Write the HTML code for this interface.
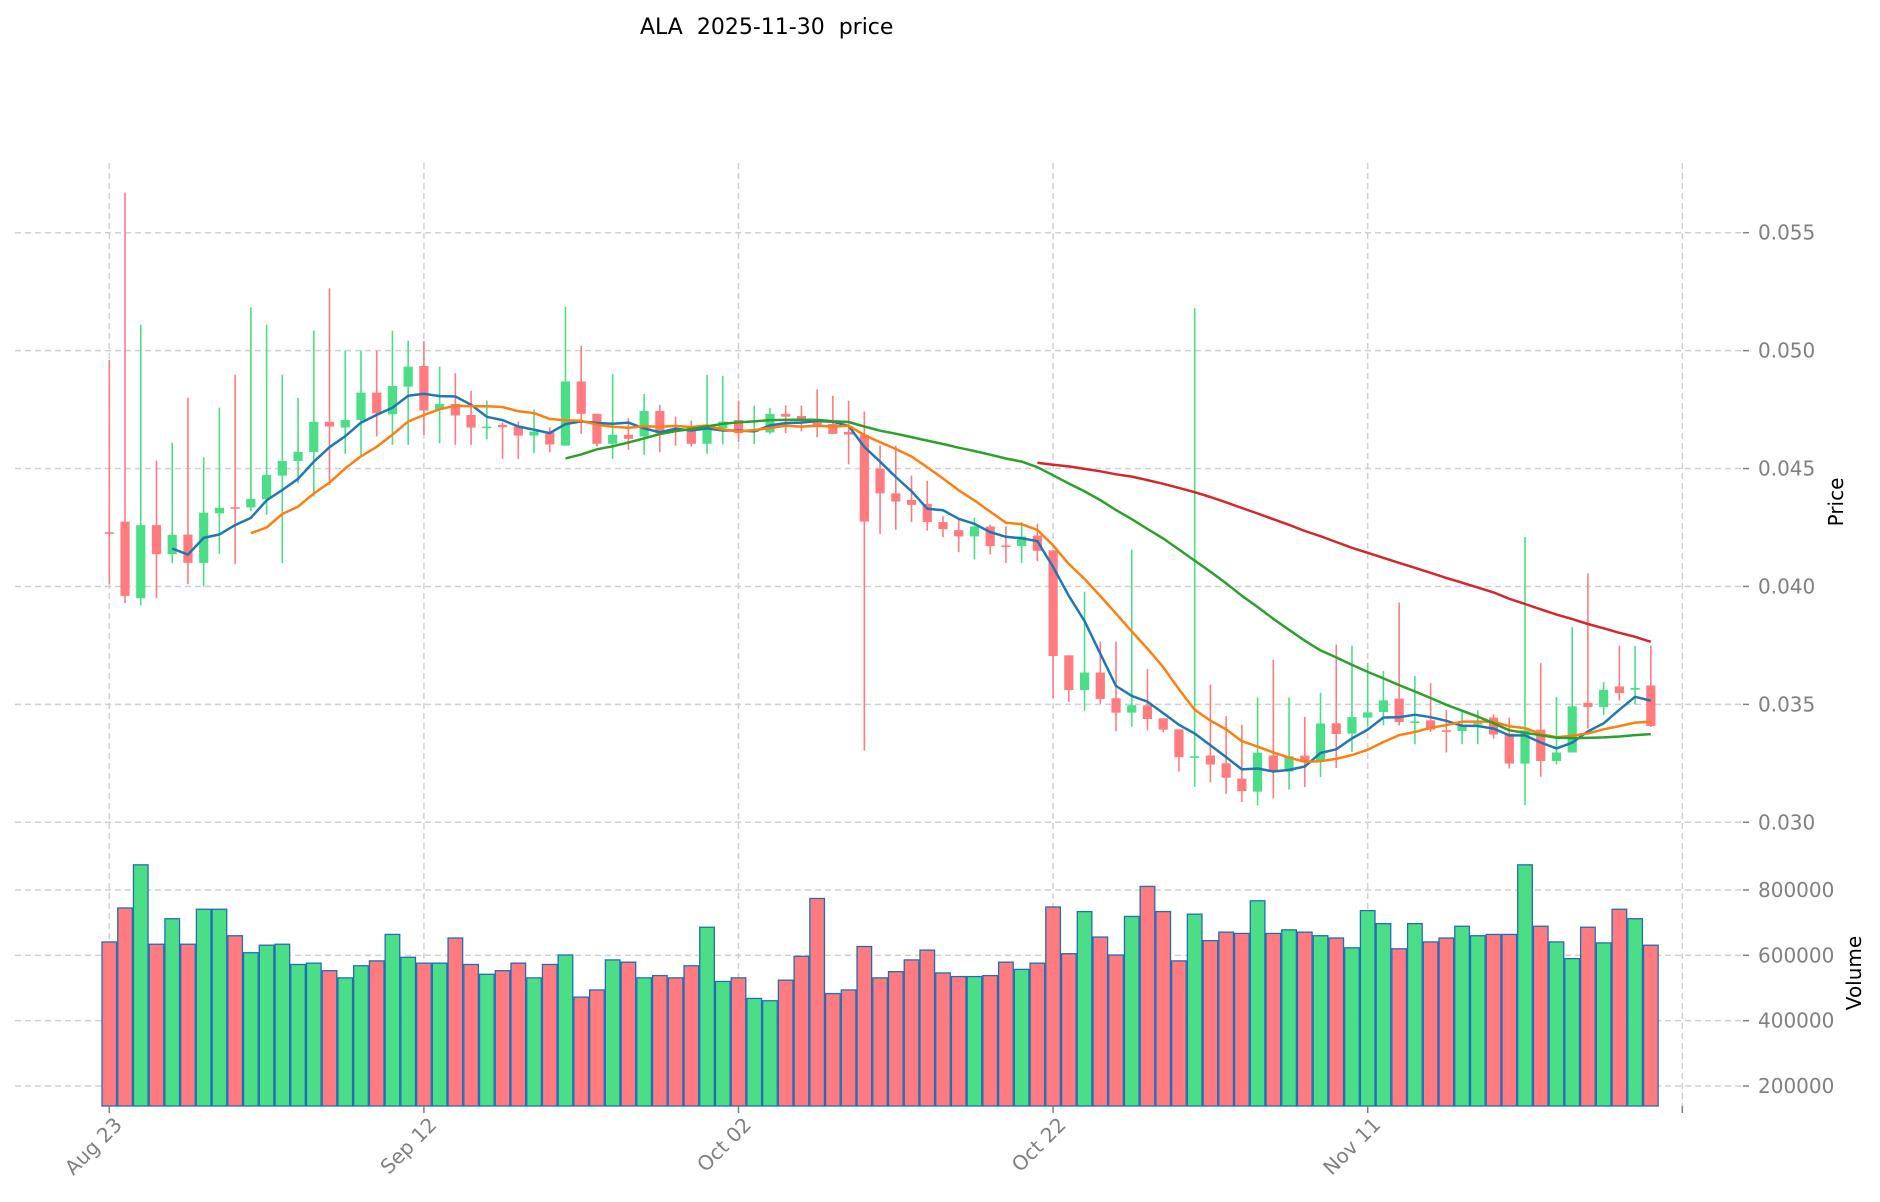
<!DOCTYPE html>
<html><head><meta charset="utf-8"><style>
html,body{margin:0;padding:0;background:#fff;}
svg{display:block;font-family:"DejaVu Sans","Liberation Sans",sans-serif;}
</style></head><body>
<svg id="chart" width="1880" height="1202" xmlns="http://www.w3.org/2000/svg">
<text x="640" y="34" font-size="22" fill="#000" xml:space="preserve">ALA  2025-11-30  price</text>
<text transform="translate(1843,502) rotate(-90)" text-anchor="middle" font-size="20" fill="#000">Price</text>
<text transform="translate(1861,973) rotate(-90)" text-anchor="middle" font-size="20" fill="#000">Volume</text>
<g id="grid"></g><g id="vol"></g><g id="candles"></g><g id="mas"></g><g id="axes"></g>
</svg>
<script>
const opens=[0.0423,0.04275,0.0395,0.0426,0.04137,0.0422,0.0410,0.0431,0.04336,0.04335,0.0437,0.0447,0.04532,0.0457,0.04698,0.04674,0.04706,0.04822,0.0473,0.04847,0.04935,0.04749,0.04774,0.04727,0.04678,0.04685,0.04678,0.0464,0.04654,0.04597,0.04869,0.04732,0.04605,0.04643,0.04636,0.04744,0.04682,0.04671,0.04605,0.04671,0.04706,0.04655,0.04653,0.04732,0.04723,0.04695,0.04689,0.04655,0.04643,0.04499,0.04395,0.04367,0.0435,0.04273,0.04239,0.04212,0.04254,0.04174,0.04171,0.04216,0.04153,0.03708,0.03561,0.03635,0.03526,0.03465,0.03496,0.03441,0.03394,0.0328,0.03283,0.0325,0.03185,0.0313,0.03283,0.03215,0.03283,0.0326,0.0342,0.03376,0.03444,0.03468,0.03524,0.03428,0.03432,0.0339,0.03387,0.03421,0.03444,0.03376,0.03249,0.03393,0.0326,0.03296,0.03507,0.03489,0.03576,0.03562,0.0358];
const closes=[0.04229,0.0396,0.0426,0.04137,0.04219,0.0410,0.04313,0.04334,0.04335,0.04371,0.04473,0.04532,0.04571,0.04698,0.04678,0.04706,0.04822,0.04734,0.0485,0.04932,0.04746,0.04774,0.04725,0.04674,0.04678,0.04675,0.0464,0.04657,0.04602,0.04869,0.04732,0.04605,0.04643,0.04626,0.04744,0.0465,0.04681,0.04605,0.04671,0.04699,0.0465,0.04662,0.04732,0.0472,0.04709,0.04684,0.04647,0.04644,0.04275,0.04395,0.0436,0.04346,0.04273,0.04243,0.04212,0.04254,0.04171,0.04173,0.04212,0.04151,0.03705,0.03561,0.03635,0.03523,0.03465,0.03496,0.03438,0.03393,0.03276,0.0328,0.03245,0.03189,0.03132,0.03295,0.03215,0.0328,0.0326,0.03419,0.03374,0.03446,0.03466,0.03517,0.03425,0.03428,0.03393,0.03389,0.03411,0.03421,0.03372,0.03249,0.0339,0.0326,0.03296,0.03492,0.03489,0.03562,0.03548,0.0357,0.03408];
const highs=[0.0496,0.0567,0.0511,0.04534,0.0461,0.048,0.04548,0.04758,0.04898,0.05184,0.0511,0.04898,0.048,0.05085,0.05264,0.050,0.050,0.050,0.05085,0.05042,0.0504,0.04932,0.04904,0.0483,0.04788,0.04695,0.047,0.04751,0.04675,0.05186,0.05021,0.04732,0.04901,0.04713,0.04816,0.0477,0.0472,0.04703,0.04897,0.04893,0.04788,0.04766,0.04756,0.04767,0.04767,0.04836,0.04809,0.04788,0.04742,0.04597,0.04597,0.0447,0.04448,0.04297,0.04282,0.04292,0.04262,0.04254,0.04274,0.04266,0.04153,0.03708,0.03978,0.03766,0.03766,0.04156,0.0365,0.03441,0.03394,0.0518,0.03584,0.0345,0.03413,0.03529,0.0369,0.03529,0.03447,0.03549,0.03754,0.03749,0.03675,0.03641,0.03932,0.0362,0.0359,0.03475,0.03475,0.03475,0.03458,0.03444,0.0421,0.03675,0.03531,0.03827,0.04055,0.03594,0.03749,0.03749,0.03749];
const lows=[0.0401,0.0393,0.0392,0.0395,0.04099,0.0401,0.0400,0.04138,0.04096,0.0432,0.04304,0.04099,0.04438,0.04381,0.0443,0.04562,0.04558,0.04636,0.0460,0.046,0.04643,0.04607,0.046,0.046,0.04624,0.04541,0.0454,0.04565,0.04569,0.04597,0.04647,0.04593,0.04541,0.04579,0.04558,0.04569,0.04597,0.04593,0.04562,0.04603,0.04612,0.04603,0.04647,0.0465,0.04657,0.04633,0.04647,0.04518,0.03304,0.04223,0.0424,0.04273,0.04237,0.04209,0.04145,0.04115,0.04136,0.041,0.041,0.04107,0.03526,0.03511,0.03473,0.03503,0.03386,0.03405,0.0339,0.03382,0.03215,0.0315,0.0317,0.03121,0.03086,0.03071,0.03101,0.03139,0.0315,0.03192,0.0323,0.03298,0.03407,0.03411,0.03411,0.03331,0.03383,0.03296,0.03331,0.03331,0.03355,0.03228,0.03073,0.03193,0.03246,0.03296,0.03397,0.03454,0.03517,0.035,0.03404];
const volumes=[641,745,877,634,712,634,741,741,660,608,631,634,572,576,553,531,568,583,664,594,576,576,653,572,542,553,576,531,572,601,472,494,586,579,531,538,531,568,686,520,531,468,461,524,597,774,483,494,627,531,550,586,616,546,535,535,538,579,557,576,748,605,734,656,601,719,811,734,583,726,645,671,667,767,667,678,671,660,653,623,737,697,620,697,641,653,689,660,664,664,877,689,641,590,686,638,741,712,631].map(v=>v*1000);
const maWindows=[5,10,30,60];
const maColors=['#1f77b4','#ff7f0e','#2ca02c','#d62728'];
const dateTicks=[0,20,40,60,80,100];
const dateLabels=['Aug 23','Sep 12','Oct 02','Oct 22','Nov 11',''];
const priceTicks=[0.030,0.035,0.040,0.045,0.050,0.055];
const volTicks=[200000,400000,600000,800000];

const NS='http://www.w3.org/2000/svg';
const X=i=>109.3+i*15.73;
const PY=p=>822.3-(p-0.030)*(232.7-822.3)/(-0.025);
const VY=v=>1086-(v-200000)*(196/600000);
const VBASE=1106;
function mk(tag,attrs,parent){const e=document.createElementNS(NS,tag);for(const k in attrs)e.setAttribute(k,attrs[k]);parent.appendChild(e);return e;}
const grid=document.getElementById('grid'),vol=document.getElementById('vol'),cg=document.getElementById('candles'),mg=document.getElementById('mas'),ax=document.getElementById('axes');
const GC='#d0d0d0';
priceTicks.forEach((p,i)=>{
  const y=PY(p);
  const l=mk('line',{x1:15,x2:1743,y1:y,y2:y,stroke:GC,'stroke-width':1.5,'stroke-dasharray':'6,4'},grid);
  
  
  mk('line',{x1:1743,x2:1749,y1:y,y2:y,stroke:'#808080','stroke-width':1.5},ax);
  const t=mk('text',{x:1758,y:y+7,'font-size':20,fill:'#808080'},ax);t.textContent=p.toFixed(3);
  
  
});
volTicks.forEach(v=>{
  const y=VY(v);
  const l=mk('line',{x1:15,x2:1743,y1:y,y2:y,stroke:GC,'stroke-width':1.5,'stroke-dasharray':'6,4'},grid);
  
  
  mk('line',{x1:1743,x2:1749,y1:y,y2:y,stroke:'#808080','stroke-width':1.5},ax);
  const t=mk('text',{x:1758,y:y+7,'font-size':20,fill:'#808080'},ax);t.textContent=String(v);
  
  
});
dateTicks.forEach((d,i)=>{
  const x=X(d);
  const l=mk('line',{x1:x,x2:x,y1:163,y2:VBASE,stroke:GC,'stroke-width':1.5,'stroke-dasharray':'6,4'},grid);
  
  
  mk('line',{x1:x,x2:x,y1:VBASE,y2:VBASE+7,stroke:'#808080','stroke-width':1.5},ax);
  if(dateLabels[i]){
    const t=mk('text',{transform:`translate(${x+14},${VBASE+20}) rotate(-45)`,'text-anchor':'end','font-size':20,fill:'#808080'},ax);
    t.textContent=dateLabels[i];
    
    
  }
});
const RED='#ff7b7f',GREEN='#4bde87';
volumes.forEach((v,i)=>{
  const up=closes[i]>=opens[i];
  const y=VY(v);
  const r=mk('rect',{x:X(i)-7.3,y:y,width:14.6,height:VBASE-y,fill:up?GREEN:RED,stroke:'#1f6fb8','stroke-width':1.3},vol);
  
  
});
opens.forEach((o,i)=>{
  const c=closes[i],up=c>=o,col=up?GREEN:RED,x=X(i);
  const w=mk('line',{x1:x,x2:x,y1:PY(highs[i]),y2:PY(lows[i]),stroke:col,'stroke-width':1.6},cg);
  
  
  const top=PY(Math.max(o,c)),bot=PY(Math.min(o,c));
  const b=mk('rect',{x:x-4.6,y:top,width:9.2,height:Math.max(bot-top,1.6),fill:col},cg);
  
  
});
maWindows.forEach((n,k)=>{
  const pts=[];
  for(let i=n-1;i<closes.length;i++){let s=0;for(let j=i-n+1;j<=i;j++)s+=closes[j];pts.push(X(i).toFixed(1)+','+PY(s/n).toFixed(1));}
  const p=mk('polyline',{points:pts.join(' '),fill:'none',stroke:maColors[k],'stroke-width':2.5,'stroke-linejoin':'round'},mg);
  
  
});
</script>
</body></html>
